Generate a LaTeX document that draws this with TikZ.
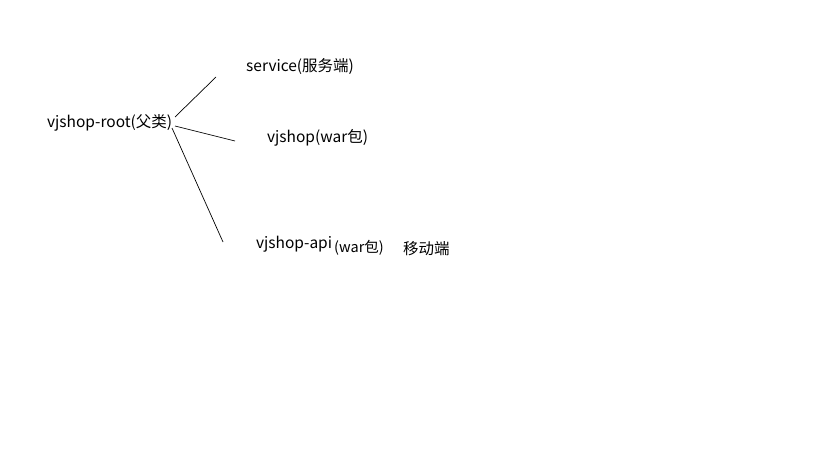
\documentclass[tikz,border=0pt]{standalone}
\usepackage{fontspec}
\newfontfamily\cjk{Noto Sans CJK SC}
\usetikzlibrary{positioning}

\begin{document}
\begin{tikzpicture}[x=1pt,y=-1pt]
	\useasboundingbox (0,0) rectangle (819,460);
	\begin{scope}[every node/.style={font=\cjk\fontsize{15.5}{17}\selectfont,inner sep=0,anchor=west}]
	    \node (root) at (47,123) {vjshop-root(父类)};
	    \node (service) at (246,67) {service(服务端)};
	    \node (vjshop) at (267,138) {vjshop(war包)};
	    \node (api) at (256,244) {vjshop-api};
	    \node[font=\cjk\fontsize{14.5}{16}\selectfont] (apiwar) at (334,248) {(war包)};
	    \node[font=\cjk\fontsize{15.5}{17}\selectfont] (mobile) at (403,249) {移动端};
	\end{scope}

	\coordinate (s1) at (175,117);
	\coordinate (s2) at (175,126);
	\coordinate (s3) at (172,128);
	\coordinate (e1) at (216,77);
	\coordinate (e2) at (235,141);
	\coordinate (e3) at (223,242);

	\begin{scope}[every path/.style={draw=black,line width=0.7}]
    	\path (s1) -- (e1);
    	\path (s2) -- (e2);
    	\path (s3) -- (e3);
	\end{scope}
\end{tikzpicture}
\end{document}
